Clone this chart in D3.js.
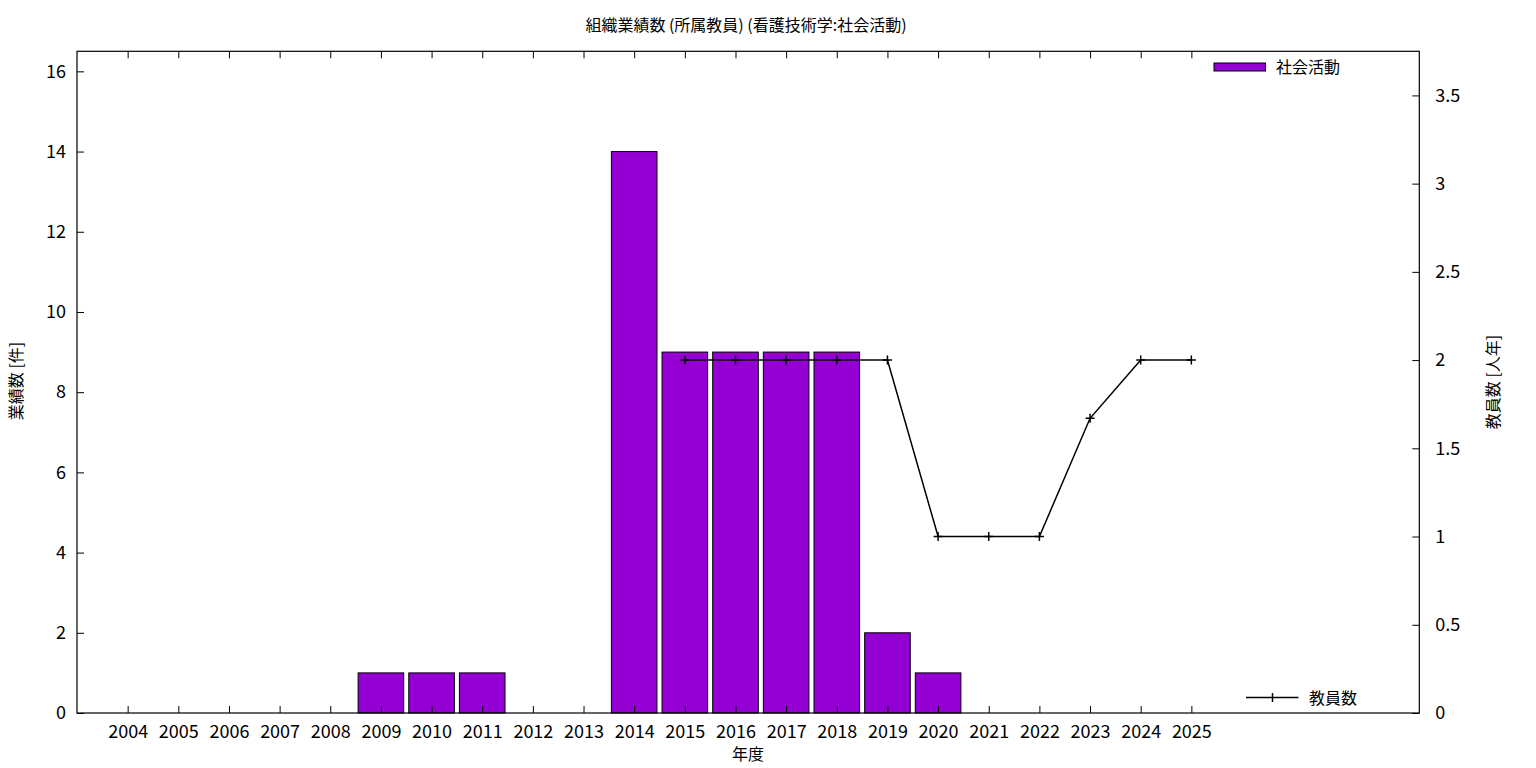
<!DOCTYPE html>
<html>
<head>
<meta charset="utf-8">
<script src="https://cdn.jsdelivr.net/npm/d3@7"></script>
<style>
html,body{margin:0;padding:0;background:#fff;}
svg{display:block;}
text{font-family:"Noto Sans CJK JP","Noto Sans",sans-serif;fill:#000;}
</style>
</head>
<body>
<script>
const years = [2004,2005,2006,2007,2008,2009,2010,2011,2012,2013,2014,2015,2016,2017,2018,2019,2020,2021,2022,2023,2024,2025];
const achievements = [0,0,0,0,0,1,1,1,0,0,14,9,9,9,9,2,1,0,0,0,0,0];
const faculty = [null,null,null,null,null,null,null,null,null,null,null,2,2,2,2,2,1,1,1,1.67,2,2];
const leftTicks = [0,2,4,6,8,10,12,14,16];
const rightTicks = [0,0.5,1,1.5,2,2.5,3,3.5];
const titleText = "組織業績数 (所属教員) (看護技術学:社会活動)";
const barLabel = "社会活動";
const lineLabel = "教員数";
const yLabel = "業績数 [件]";
const y2Label = "教員数 [人年]";
const xLabel = "年度";

const W = 1536, H = 768;
const L = 77, R = 1419.3, T = 51.3, B = 713;
const svg = d3.select("body").append("svg").attr("width", W).attr("height", H);

const x = d3.scaleLinear().domain([2003, 2029.5]).range([L, R]);
const y = d3.scaleLinear().domain([0, 16.5]).range([B, T]);
const y2 = d3.scaleLinear().domain([0, 3.75]).range([B, T]);
const step = x(2005) - x(2004);
const bw = step * 0.9;

// bars
svg.append("g").selectAll("rect")
  .data(years.map((yr, i) => ({yr, v: achievements[i]})).filter(d => d.v > 0))
  .join("rect")
  .attr("x", d => x(d.yr) - bw / 2)
  .attr("y", d => y(d.v))
  .attr("width", bw)
  .attr("height", d => y(0) - y(d.v))
  .attr("fill", "#9400d3")
  .attr("stroke", "#000")
  .attr("stroke-width", 1);

// line
const lineData = years.map((yr, i) => ({yr, v: faculty[i]})).filter(d => d.v !== null);
svg.append("path")
  .datum(lineData)
  .attr("d", d3.line().x(d => x(d.yr)).y(d => y2(d.v)))
  .attr("fill", "none").attr("stroke", "#000").attr("stroke-width", 1.5);
const ms = 4.5;
svg.append("g").selectAll("path")
  .data(lineData).join("path")
  .attr("d", d => `M${x(d.yr) - ms},${y2(d.v)}H${x(d.yr) + ms}M${x(d.yr)},${y2(d.v) - ms}V${y2(d.v) + ms}`)
  .attr("stroke", "#000").attr("stroke-width", 1.5);

// axes
const tl = 7;
const xb = svg.append("g").attr("transform", `translate(0,${B})`)
  .call(d3.axisBottom(x).tickValues(years).tickFormat(d3.format("d")).tickSizeInner(-tl).tickSizeOuter(0).tickPadding(12));
const xt = svg.append("g").attr("transform", `translate(0,${T})`)
  .call(d3.axisTop(x).tickValues(years).tickFormat("").tickSizeInner(-tl).tickSizeOuter(0));
const yl = svg.append("g").attr("transform", `translate(${L},0)`)
  .call(d3.axisLeft(y).tickValues(leftTicks).tickFormat(d3.format("d")).tickSizeInner(-tl).tickSizeOuter(0).tickPadding(11));
const yr = svg.append("g").attr("transform", `translate(${R},0)`)
  .call(d3.axisRight(y2).tickValues(rightTicks).tickFormat(d => String(d)).tickSizeInner(-tl).tickSizeOuter(0).tickPadding(16));
[xb, xt, yl, yr].forEach(g => {
  g.select(".domain").remove();
  g.selectAll(".tick line").attr("stroke", "#000").attr("stroke-width", 1);
  g.selectAll(".tick text").style("font-family", '"Noto Sans CJK JP",sans-serif').style("font-size", "18px").attr("fill", "#000");
});
xb.selectAll(".tick text").attr("dy", "0.71em");

// frame
svg.append("rect").attr("x", L).attr("y", T).attr("width", R - L).attr("height", B - T)
  .attr("fill", "none").attr("stroke", "#000").attr("stroke-width", 1.2);

// title & labels
svg.append("text").attr("x", 746).attr("y", 31).attr("text-anchor", "middle")
  .style("font-size", "16px").text(titleText);
svg.append("text").attr("x", 748).attr("y", 760).attr("text-anchor", "middle")
  .style("font-size", "16px").text(xLabel);
svg.append("text").attr("transform", "translate(22,381) rotate(-90)").attr("text-anchor", "middle")
  .style("font-size", "16px").text(yLabel);
svg.append("text").attr("transform", "translate(1499,382) rotate(-90)").attr("text-anchor", "middle")
  .style("font-size", "16px").text(y2Label);

// legends
svg.append("rect").attr("x", 1214).attr("y", 63).attr("width", 51.5).attr("height", 8)
  .attr("fill", "#9400d3").attr("stroke", "#000").attr("stroke-width", 1);
svg.append("text").attr("x", 1276).attr("y", 73).style("font-size", "16px").text(barLabel);
svg.append("path").attr("d", `M1246,697.5H1298.5M1272.5,${697.5 - ms}V${697.5 + ms}`)
  .attr("stroke", "#000").attr("stroke-width", 1.5);
svg.append("text").attr("x", 1309).attr("y", 703.5).style("font-size", "16px").text(lineLabel);
</script>
</body>
</html>
